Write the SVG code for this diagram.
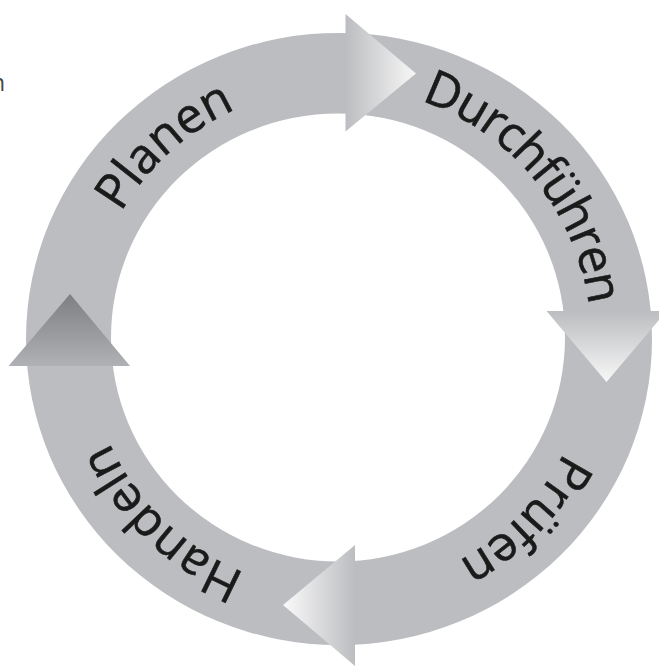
<svg xmlns="http://www.w3.org/2000/svg" xmlns:xlink="http://www.w3.org/1999/xlink" width="659" height="670" viewBox="0 0 659 670">
  <style>
    .ring { fill: #bcbdc0; fill-rule: evenodd; }
    .label { font-family: "Open Sans", "Liberation Sans", sans-serif; font-size: 49px; fill: #1a1a1a; stroke: #1a1a1a; stroke-width: 0.6px; }
    .stray { font-family: "Open Sans", "Liberation Sans", sans-serif; font-size: 23px; fill: #444444; }
  </style>
  <defs>
    <linearGradient id="gTop" gradientUnits="userSpaceOnUse" x1="345.5" y1="0" x2="416" y2="0">
      <stop offset="0" stop-color="#bcbdc0"/>
      <stop offset="1" stop-color="#f7f7f7"/>
    </linearGradient>
    <linearGradient id="gRight" gradientUnits="userSpaceOnUse" x1="0" y1="311" x2="0" y2="382">
      <stop offset="0" stop-color="#bcbdc0"/>
      <stop offset="1" stop-color="#f7f7f7"/>
    </linearGradient>
    <linearGradient id="gBottom" gradientUnits="userSpaceOnUse" x1="355" y1="0" x2="283" y2="0">
      <stop offset="0" stop-color="#bcbdc0"/>
      <stop offset="1" stop-color="#fafafa"/>
    </linearGradient>
    <linearGradient id="gLeft" gradientUnits="userSpaceOnUse" x1="0" y1="366" x2="0" y2="294">
      <stop offset="0" stop-color="#b0b1b4"/>
      <stop offset="1" stop-color="#7e7f82"/>
    </linearGradient>
    <path id="textCircle" d="M 339 87 A 252 252 0 1 1 339 591 A 252 252 0 1 1 339 87"/>
  </defs>

  <text class="stray" x="5" y="91" text-anchor="end">n</text>

  <g id="connectors">
    <path class="ring" d="M 26 339 A 313 306 0 1 1 652 339 A 313 306 0 1 1 26 339 Z M 111 337.5 A 227 224 0 1 0 565 337.5 A 227 224 0 1 0 111 337.5 Z"/>
    <polygon id="arrow-top" points="345.5,14 416,73.5 345.5,131.5" fill="url(#gTop)"/>
    <polygon id="arrow-right" points="546.5,311 666.5,311 606.5,382" fill="url(#gRight)"/>
    <polygon id="arrow-bottom" points="355,545 355,666 283,605" fill="url(#gBottom)"/>
    <polygon id="arrow-left" points="8.5,366 130,366 70,294" fill="url(#gLeft)"/>
  </g>

  <g id="node-planen">
    <text class="label" text-anchor="middle"><textPath xlink:href="#textCircle" startOffset="1398">Planen</textPath></text>
  </g>
  <g id="node-durchfuehren">
    <text class="label" text-anchor="middle" letter-spacing="-1.5"><textPath xlink:href="#textCircle" startOffset="222">Durchführen</textPath></text>
  </g>
  <g id="node-pruefen">
    <text class="label" text-anchor="middle"><textPath xlink:href="#textCircle" startOffset="590">Prüfen</textPath></text>
  </g>
  <g id="node-handeln">
    <text class="label" text-anchor="middle"><textPath xlink:href="#textCircle" startOffset="984">Handeln</textPath></text>
  </g>
</svg>
